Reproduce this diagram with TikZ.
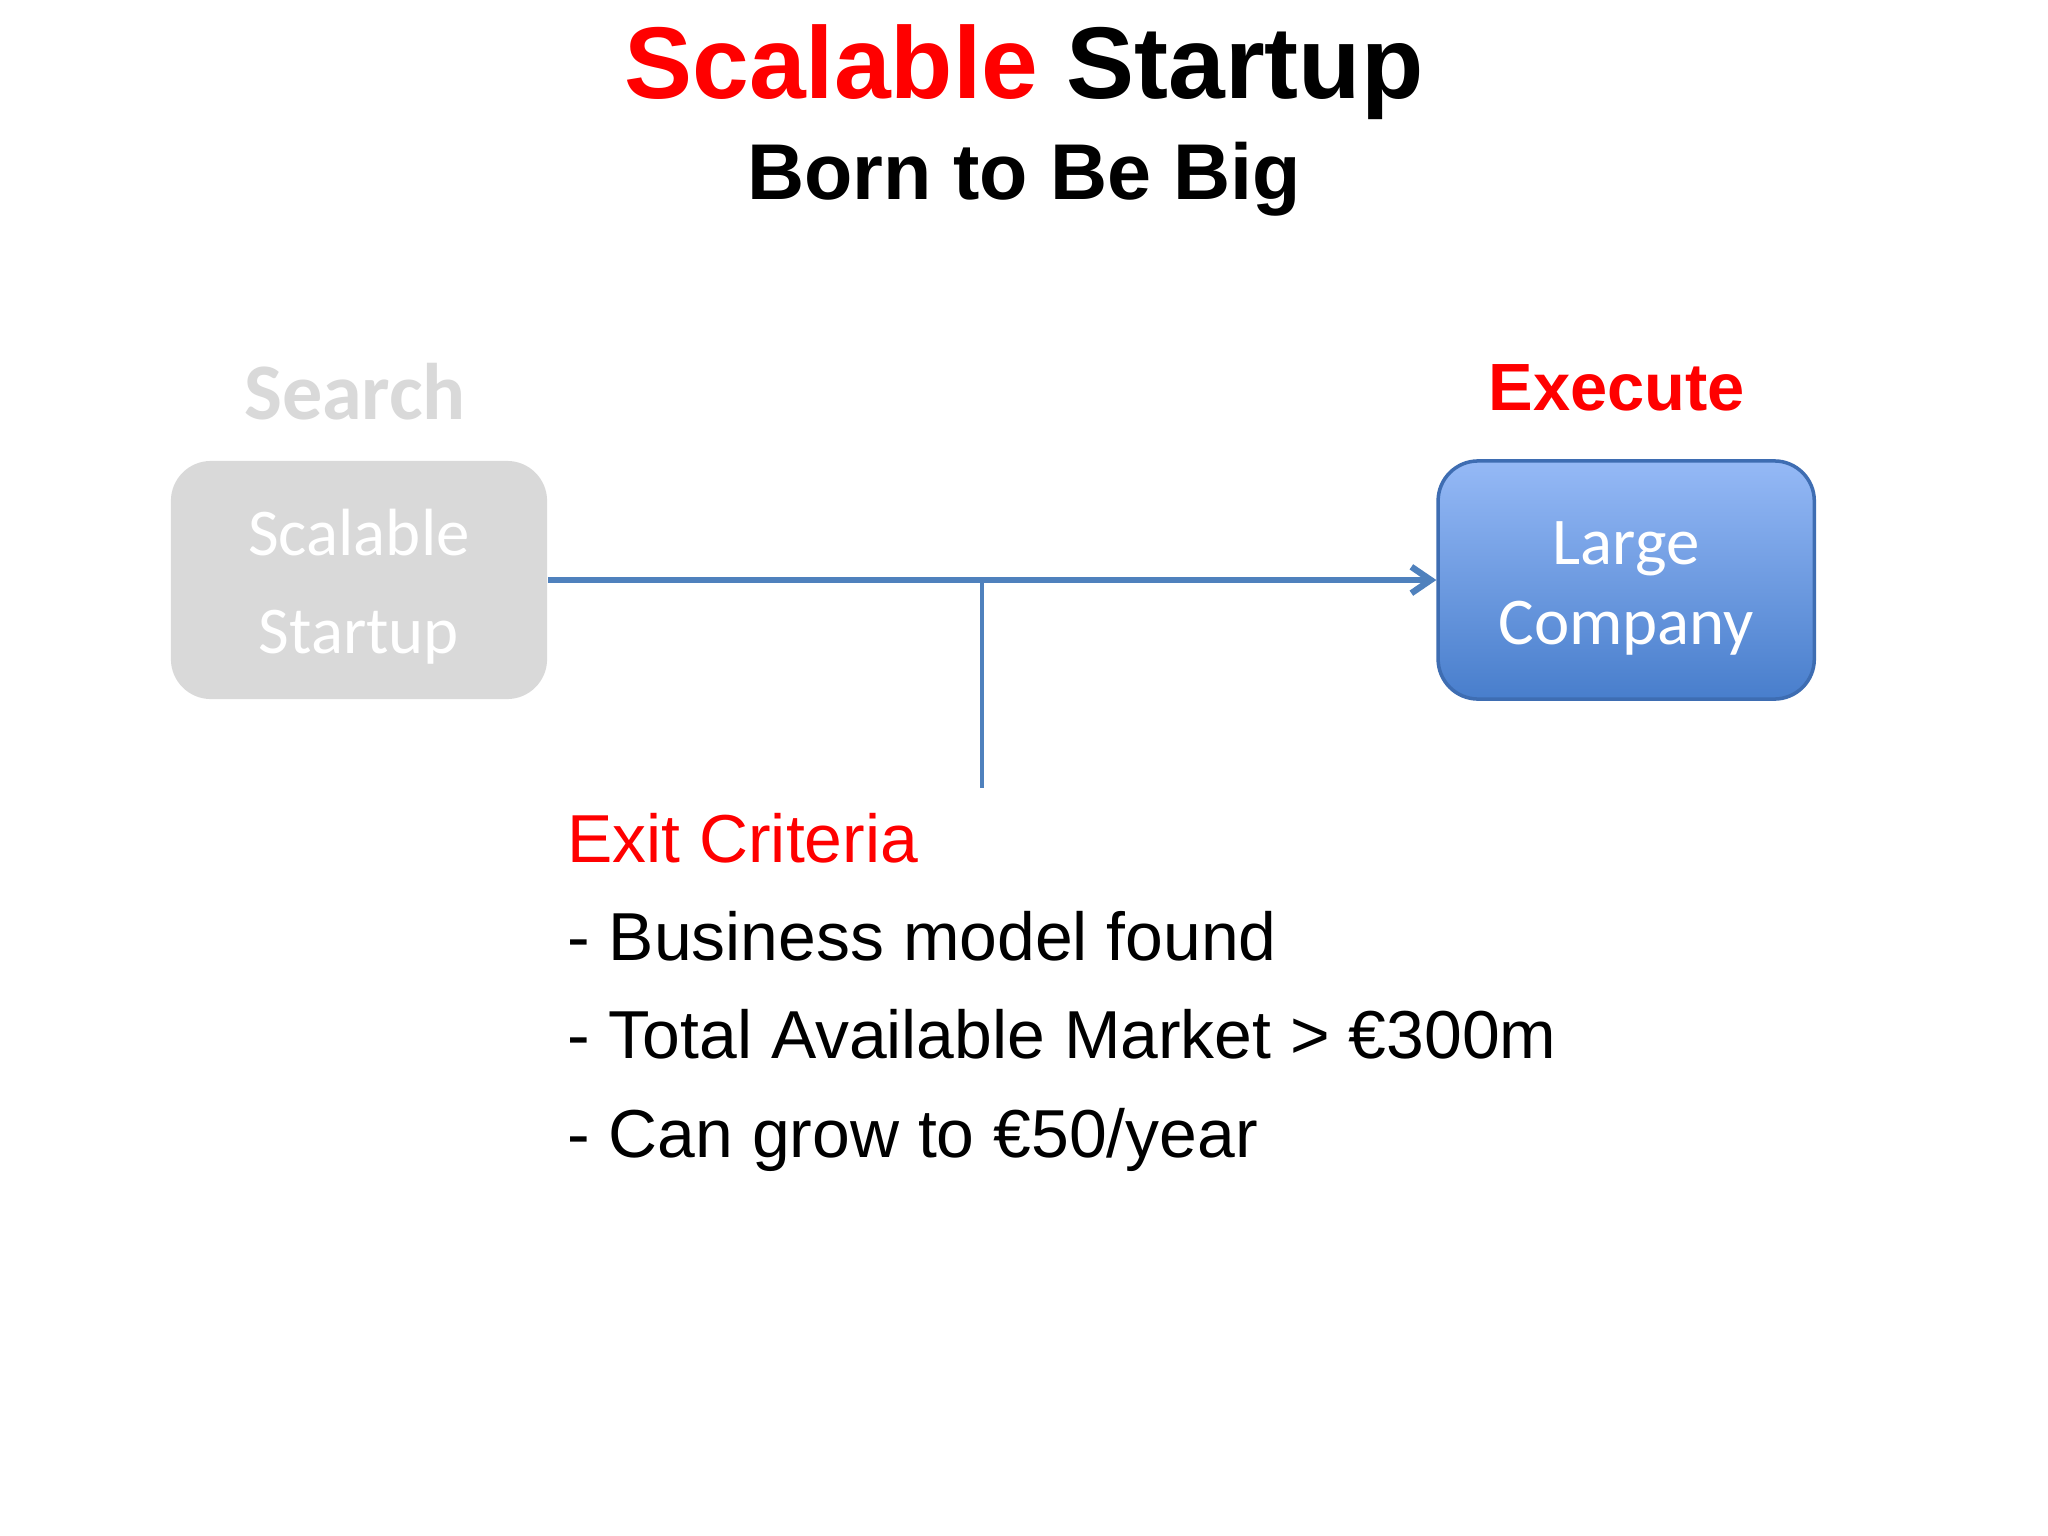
\documentclass[tikz,border=0pt]{standalone}
\usepackage{fontspec}
\setmainfont{Liberation Sans}
\newfontfamily\calibri{Carlito}
\usetikzlibrary{calc,arrows.meta,positioning}
\definecolor{slidered}{RGB}{255,0,0}
\definecolor{boxgray}{RGB}{217,217,217}
\definecolor{lineblue}{RGB}{79,129,189}
\definecolor{boxtop}{RGB}{149,185,246}
\definecolor{boxbottom}{RGB}{72,126,204}
\definecolor{boxedge}{RGB}{62,109,178}

\begin{document}
\begin{tikzpicture}[x=0.01cm,y=-0.01cm,>={Straight Barb[length=5.5pt,width=7.5pt]},
  box/.style={minimum width=3.76cm,minimum height=2.38cm,rounded corners=0.4cm,align=center,text=white},
  item/.style={anchor=base west,font=\fontsize{19.3}{23}\selectfont}]
  \fill[white] (0,0) rectangle (2048,1536);
  \useasboundingbox (0,0) rectangle (2048,1536);

  \node (title) [anchor=base,font=\bfseries\fontsize{29}{35}\selectfont] at (1024,98) {\textcolor{slidered}{Scalable} Startup};
  \node (subtitle) [anchor=base,font=\bfseries\fontsize{22.5}{27}\selectfont] at (1024,199) {Born to Be Big};

  \node[box,fill=boxgray,font=\calibri\fontsize{19}{27.9}\selectfont] (start) at (359,580) {\rule{0pt}{17pt}Scalable\\Startup};
  \node[box,draw=boxedge,line width=1pt,top color=boxtop,bottom color=boxbottom,font=\calibri\fontsize{19}{23}\selectfont] (large) [right=8.88cm of start] {\rule{0pt}{17pt}Large\\Company};

  \node[anchor=base,text=boxgray,font=\calibri\bfseries\fontsize{22.8}{27}\selectfont] (search) at (355,419) {Search};
  \node[anchor=base,text=slidered,font=\bfseries\fontsize{19}{23}\selectfont] (execute) at (1617,410) {Execute};

  \draw[->,lineblue,line width=1.8pt] (start) -- (large);
  \coordinate (split) at (982,580);
  \coordinate (tick) at (982,788);
  \draw[lineblue,line width=0.9pt] (split) -- (tick);

  \node[item,text=slidered] (exit) at (555,862) {Exit Criteria};
  \node[item,below=0.98cm of exit.base west,anchor=base west] (found) {- Business model found};
  \node[item,below=0.98cm of found.base west,anchor=base west] (market) {- Total Available Market > €300m};
  \node[item,below=0.99cm of market.base west,anchor=base west] (grow) {- Can grow to €50/year};
\end{tikzpicture}
\end{document}
